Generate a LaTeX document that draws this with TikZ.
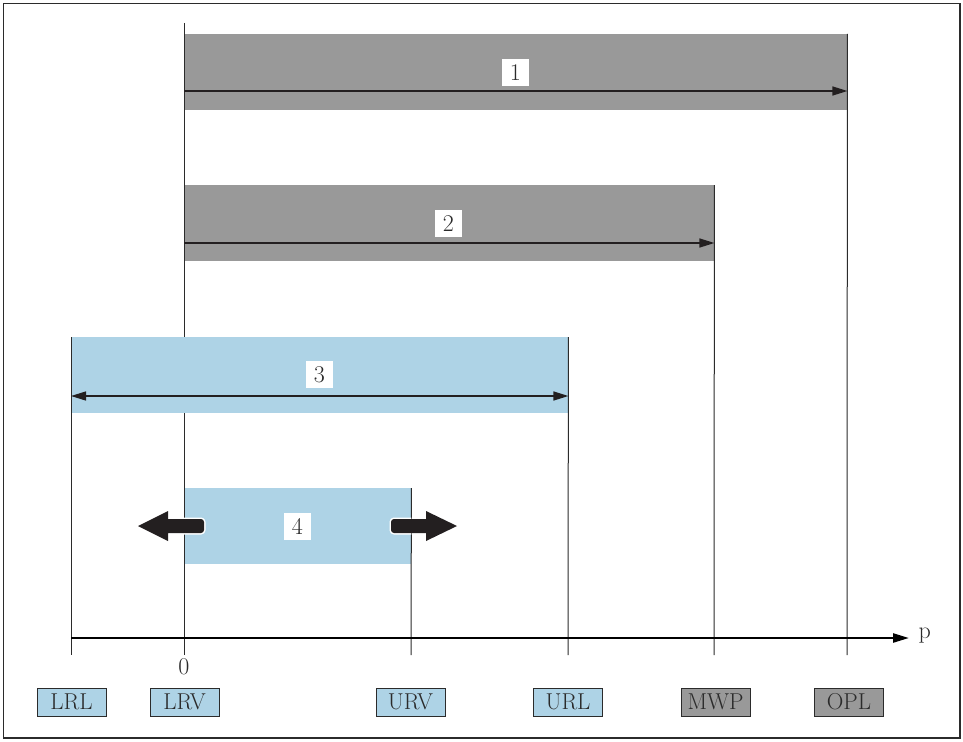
\documentclass[tikz,border=0pt]{standalone}
\usetikzlibrary{arrows.meta}
\definecolor{bargrey}{HTML}{999999}
\definecolor{barblue}{HTML}{AED3E6}
\definecolor{txt}{HTML}{2B2B2B}
\definecolor{arr}{HTML}{231F20}
\tikzset{
  greybar/.style={fill=bargrey, draw=none, minimum width=#1, minimum height=76pt, inner sep=0pt, anchor=north west},
  bluebar/.style={fill=barblue, draw=none, minimum width=#1, minimum height=76pt, inner sep=0pt, anchor=north west},
  numlbl/.style={fill=white, minimum width=27pt, minimum height=27pt, inner sep=0pt, text=txt, font=\fontsize{24}{24}\selectfont},
  taglbl/.style={draw=txt, line width=0.8pt, minimum width=69pt, minimum height=28pt, inner sep=0pt, text=txt, font=\fontsize{23}{23}\selectfont},
  vline/.style={line width=1pt, draw=txt},
  dimarrow/.style={line width=1.4pt, draw=arr, -{Triangle[length=15pt,width=9pt]}},
  dimarrow2/.style={line width=1.4pt, draw=arr, {Triangle[length=15pt,width=9pt]}-{Triangle[length=15pt,width=9pt]}},
  axisline/.style={line width=2.4pt, draw=black, -{Triangle[length=16pt,width=9pt]}},
  arrowfill/.style={fill=arr, draw=none},
  arrowhalo/.style={draw=white, line width=3pt, line join=round}
}
\begin{document}
\begin{tikzpicture}[x=1pt,y=-1pt]
\useasboundingbox (0,0) rectangle (963,741);
\draw[line width=1.5pt, draw=txt] (3.5,3.5) rectangle (960,738);

% bars
\node[greybar=663pt] (bar1) at (184,34) {};
\node[greybar=530pt] (bar2) at (184,185) {};
\node[bluebar=497pt] (bar3) at (71,337) {};
\node[bluebar=227pt] (bar4) at (184,488) {};

% axis points
\coordinate (xLRL) at (71,655);
\coordinate (xLRV) at (184,655);
\coordinate (xURV) at (411,655);
\coordinate (xURL) at (568,655);
\coordinate (xMWP) at (714,655);
\coordinate (xOPL) at (847,655);
\coordinate (tLRV) at (184,23);
\coordinate (axs) at (71,638);
\coordinate (axe) at (909,638);

% vertical lines
\draw[vline] (bar3.north west) -- (xLRL);
\draw[vline] (tLRV) -- (bar3.north -| tLRV);
\draw[vline] (bar3.south -| tLRV) -- (xLRV);
\draw[vline] (bar4.north east) -- (xURV);
\draw[vline] (bar3.north east) -- (xURL);
\draw[vline] (bar2.north east) -- (xMWP);
\draw[vline] (bar1.north east) -- (xOPL);

% dimension arrows
\draw[dimarrow] (184,91) -- (bar1.east |- 0,91);
\draw[dimarrow] (184,243) -- (bar2.east |- 0,243);
\draw[dimarrow2] (bar3.west |- 0,396) -- (bar3.east |- 0,396);

% number labels
\node[numlbl] (n1) at (515.5,72.5) {1};
\node[numlbl] (n2) at (448.5,223.5) {2};
\node[numlbl] (n3) at (319.5,374.5) {3};
\node[numlbl] (n4) at (297.5,526) {4};

% big arrows (white halo only inside the blue bar)
\begin{scope}
  \clip (bar4.north west) rectangle (bar4.south east);
  \draw[arrowhalo, rounded corners=3pt] (168,519) -- (204,519) -- (204,533) -- (168,533);
  \draw[arrowhalo, rounded corners=3pt] (426,519) -- (391,519) -- (391,533) -- (426,533);
\end{scope}
\fill[arrowfill] (138,526) -- (168,511) -- (168,519) [rounded corners=3pt] -- (204,519) -- (204,533) [sharp corners] -- (168,533) -- (168,541) -- cycle;
\fill[arrowfill] (457,526) -- (426,511) -- (426,519) [rounded corners=3pt] -- (391,519) -- (391,533) [sharp corners] -- (426,533) -- (426,541) -- cycle;

% axis
\draw[axisline] (axs) -- (axe);
\node[text=txt, font=\fontsize{24}{24}\selectfont, anchor=west] (p) at (915,636) {p};
\node[text=txt, font=\fontsize{24}{24}\selectfont] (zero) at (184,667) {0};

% tags
\node[taglbl, fill=barblue] (LRL) at (71.5,702) {LRL};
\node[taglbl, fill=barblue] (LRV) at (184.5,702) {LRV};
\node[taglbl, fill=barblue] (URV) at (410.5,702) {URV};
\node[taglbl, fill=barblue] (URL) at (568,702) {URL};
\node[taglbl, fill=bargrey] (MWP) at (715.5,702) {MWP};
\node[taglbl, fill=bargrey] (OPL) at (849,702) {OPL};
\end{tikzpicture}
\end{document}
